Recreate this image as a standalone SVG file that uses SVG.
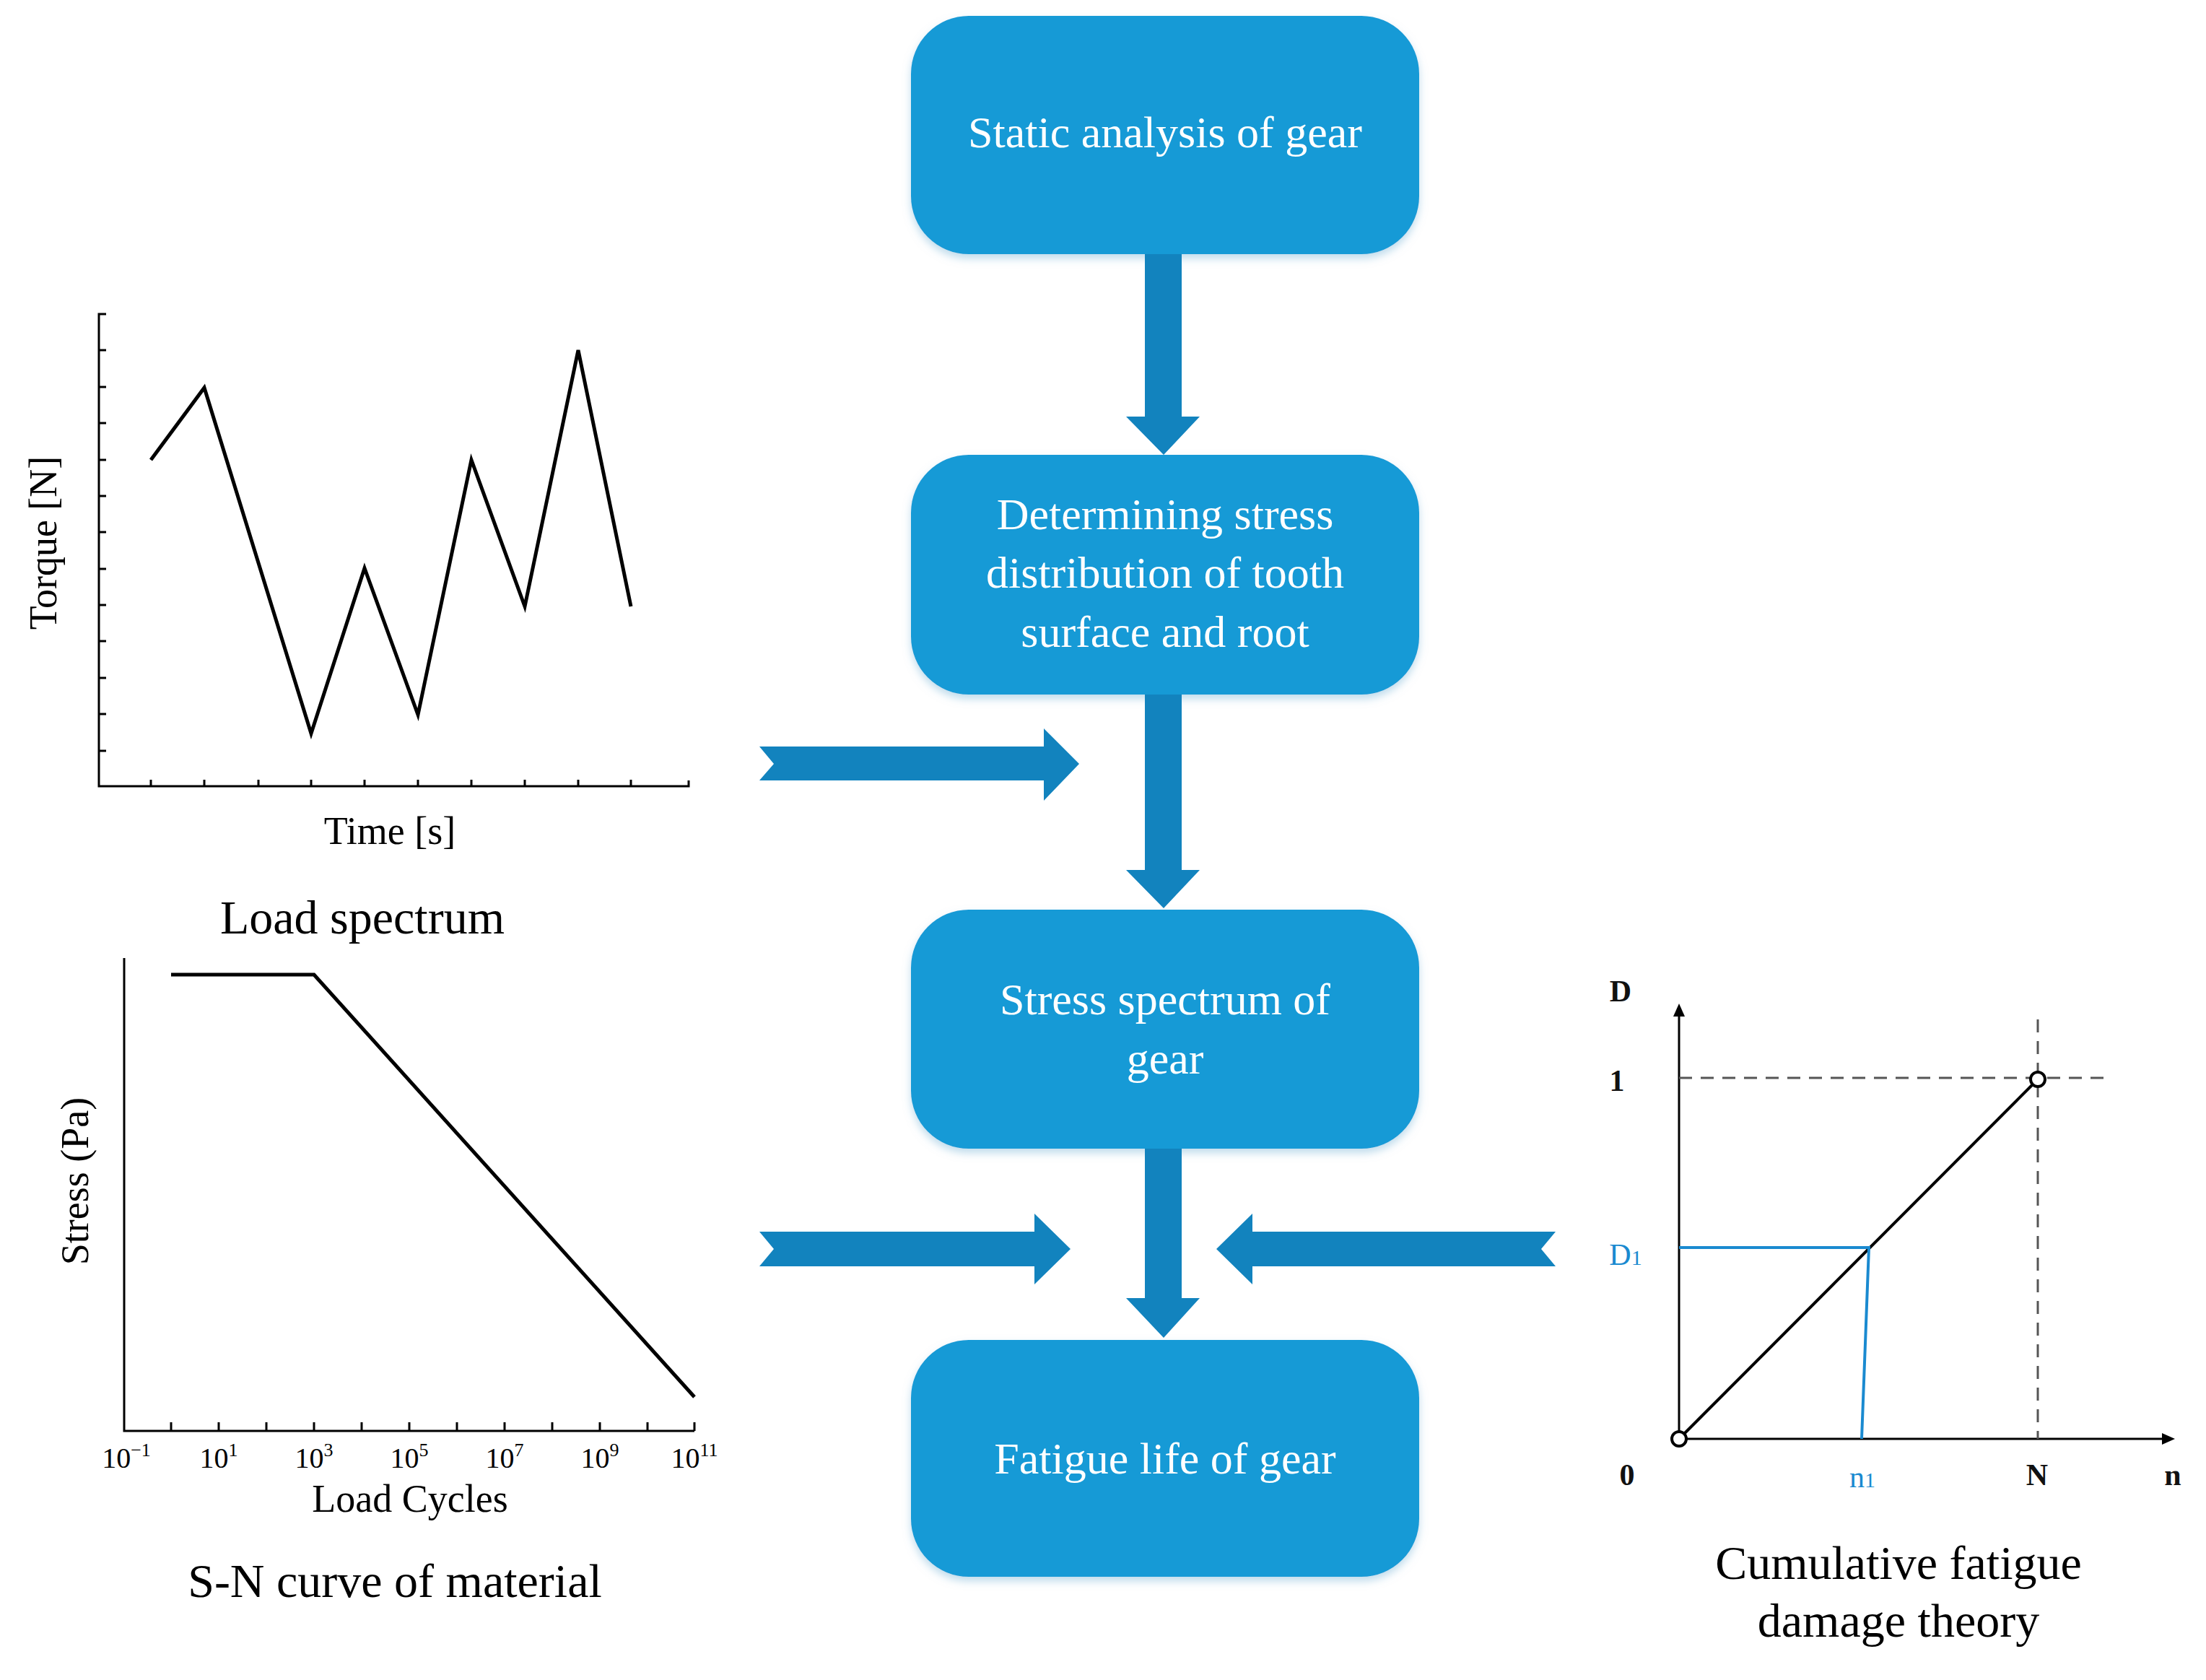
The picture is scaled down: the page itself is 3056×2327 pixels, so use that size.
<svg xmlns="http://www.w3.org/2000/svg" width="3056" height="2327" viewBox="0 0 3056 2327">
<style>
.box{fill:#189ad6;filter:url(#sh)}
.nt{font-family:"Liberation Serif",serif;font-size:62px;fill:#fff;text-anchor:middle}
.ar{fill:#1283be}
.ax{stroke:#000;stroke-width:3;fill:none}
.ln{stroke:#000;stroke-width:5;fill:none}
.lb{font-family:"Liberation Serif",serif;fill:#000;text-anchor:middle}
.dl{font-family:"Liberation Serif",serif;font-size:42px;font-weight:bold;fill:#111;text-anchor:middle}
</style>
<defs>
<filter id="sh" x="-10%" y="-10%" width="120%" height="130%"><feDropShadow dx="0" dy="6" stdDeviation="6" flood-color="#7fb8d8" flood-opacity="0.5"/></filter>
</defs>
<g id="n1"><rect class="box" x="1262" y="22" width="704" height="330" rx="80"/><text class="nt" x="1614" y="204">Static analysis of gear</text></g>
<g id="n2"><rect class="box" x="1262" y="630" width="704" height="332" rx="80"/><text class="nt" x="1614" y="733">Determining stress</text><text class="nt" x="1614" y="814">distribution of tooth</text><text class="nt" x="1614" y="896">surface and root</text></g>
<g id="n3"><rect class="box" x="1262" y="1260" width="704" height="331" rx="80"/><text class="nt" x="1614" y="1405">Stress spectrum of</text><text class="nt" x="1614" y="1487">gear</text></g>
<g id="n4"><rect class="box" x="1262" y="1856" width="704" height="328" rx="80"/><text class="nt" x="1614" y="2041">Fatigue life of gear</text></g>
<g id="connectors">
<polygon class="ar" points="1586,352 1637,352 1637,577 1662,577 1612,630 1560,577 1586,577"/>
<polygon class="ar" points="1586,962 1637,962 1637,1205 1662,1205 1612,1258 1560,1205 1586,1205"/>
<polygon class="ar" points="1586,1591 1637,1591 1637,1798 1662,1798 1612,1853 1560,1798 1586,1798"/>
<polygon class="ar" points="1052,1034 1446,1034 1446,1009 1495,1058 1446,1109 1446,1081 1052,1081 1072,1058"/>
<polygon class="ar" points="1052,1706 1433,1706 1433,1681 1483,1730 1433,1779 1433,1754 1052,1754 1072,1730"/>
<polygon class="ar" points="2155,1706 1735,1706 1735,1681 1685,1730 1735,1779 1735,1754 2155,1754 2135,1730"/>
</g>
<g id="load">
<path class="ax" d="M147,435 L137,435 L137,1089 L954,1089 L954,1081"/>
<path class="ax" d="M137,485h10M137,536h10M137,586h10M137,637h10M137,687h10M137,737h10M137,788h10M137,838h10M137,888h10M137,939h10M137,989h10M137,1040h10"/>
<path class="ax" d="M209,1089v-9M283,1089v-9M358,1089v-9M431,1089v-9M505,1089v-9M579,1089v-9M653,1089v-9M727,1089v-9M801,1089v-9M874,1089v-9"/>
<polyline class="ln" points="209,637 283,537 431,1016 505,787 579,990 653,637 727,840 801,485 874,840"/>
<text class="lb" font-size="54" transform="translate(78,752) rotate(-90)" y="0">Torque [N]</text>
<text class="lb" font-size="54" x="540" y="1169">Time [s]</text>
<text class="lb" font-size="66" x="502" y="1293">Load spectrum</text>
</g>
<g id="sn">
<path class="ax" d="M172,1327 L172,1982 L962,1982"/>
<path class="ax" d="M237,1982v-12M303,1982v-12M369,1982v-12M435,1982v-12M501,1982v-12M567,1982v-12M633,1982v-12M699,1982v-12M765,1982v-12M831,1982v-12M897,1982v-12M962,1982v-12"/>
<polyline class="ln" points="237,1350 435,1350 962,1935"/>
<g class="lb" font-size="40">
<text x="175" y="2033">10<tspan font-size="26" dy="-16">−1</tspan></text>
<text x="303" y="2033">10<tspan font-size="26" dy="-16">1</tspan></text>
<text x="435" y="2033">10<tspan font-size="26" dy="-16">3</tspan></text>
<text x="567" y="2033">10<tspan font-size="26" dy="-16">5</tspan></text>
<text x="699" y="2033">10<tspan font-size="26" dy="-16">7</tspan></text>
<text x="831" y="2033">10<tspan font-size="26" dy="-16">9</tspan></text>
<text x="962" y="2033">10<tspan font-size="26" dy="-16">11</tspan></text>
</g>
<text class="lb" font-size="54" x="568" y="2094">Load Cycles</text>
<text class="lb" font-size="54" transform="translate(122,1636) rotate(-90)">Stress (Pa)</text>
<text class="lb" font-size="66" x="547" y="2212">S-N curve of material</text>
</g>
<g id="damage">
<path class="ax" d="M2326,1993 L2326,1405 M2326,1993 L2998,1993"/>
<polygon points="2326,1390 2318,1408 2334,1408" fill="#000"/>
<polygon points="3013,1993 2995,1985 2995,2001" fill="#000"/>
<path d="M2326,1493 L2919,1493 M2823,1412 L2823,1993" stroke="#555" stroke-width="3" stroke-dasharray="18,12" fill="none"/>
<line x1="2326" y1="1993" x2="2823" y2="1495" stroke="#000" stroke-width="4"/>
<path d="M2326,1728 L2589,1728 L2579,1993" stroke="#1a8ad0" stroke-width="4" fill="none"/>
<circle cx="2326" cy="1993" r="10" fill="#fff" stroke="#000" stroke-width="4"/>
<circle cx="2823" cy="1495" r="10" fill="#fff" stroke="#000" stroke-width="4"/>
<text class="dl" x="2245" y="1387">D</text>
<text class="dl" x="2240" y="1511">1</text>
<text class="dl" x="2252" y="1752" fill="#1a8ad0" style="fill:#1a8ad0;font-weight:normal">D<tspan font-size="30">1</tspan></text>
<text class="dl" x="2254" y="2057">0</text>
<text class="dl" x="2580" y="2060" style="fill:#1a8ad0;font-weight:normal">n<tspan font-size="30">1</tspan></text>
<text class="dl" x="2822" y="2057">N</text>
<text class="dl" x="3010" y="2057">n</text>
<text class="lb" font-size="66" x="2630" y="2187">Cumulative fatigue</text>
<text class="lb" font-size="66" x="2630" y="2267">damage theory</text>
</g>
</svg>
